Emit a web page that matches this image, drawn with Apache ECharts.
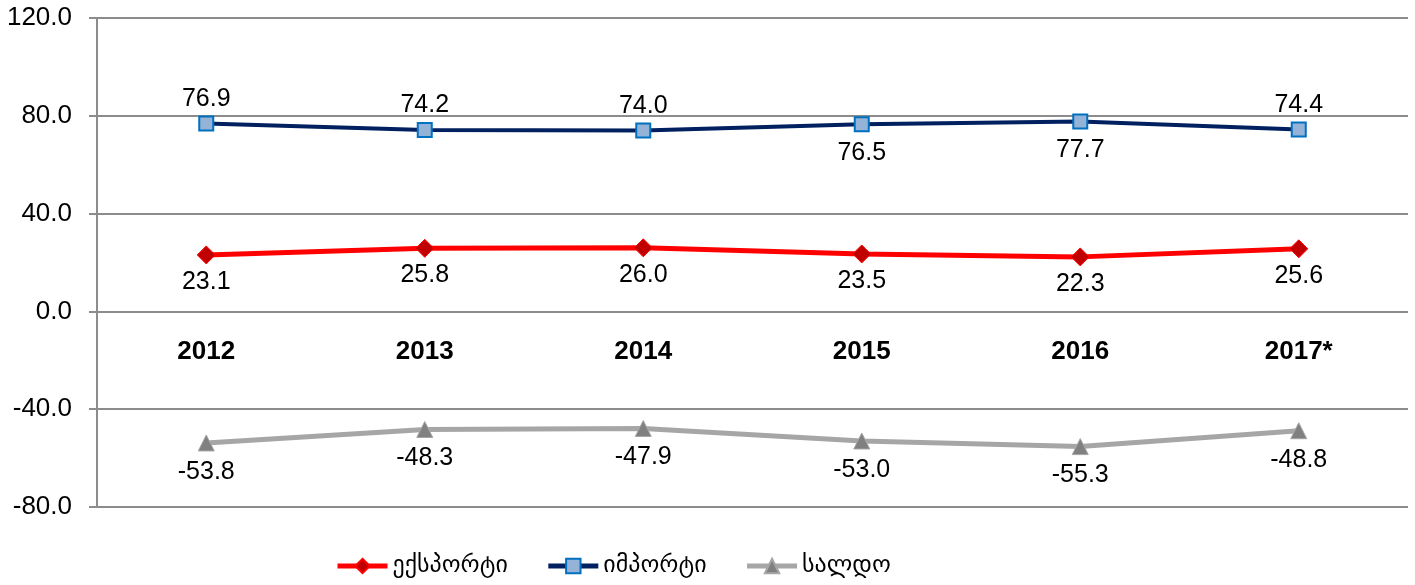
<!DOCTYPE html>
<html>
<head>
    <meta charset="utf-8">
    <title>ECharts</title>
    <script src="https://cdn.jsdelivr.net/npm/echarts@6/dist/echarts.min.js"></script>
</head>
<body style="margin:0">
<style type="text/css">
.chart_box{width: 1415px; height: 585px;}
</style>
    <div class="chart_box" id="main"></div>
    <script type="text/javascript">
        // data
        var years = ['2012', '2013', '2014', '2015', '2016', '2017*'];
        var exportVals = [23.1, 25.8, 26.0, 23.5, 22.3, 25.6];
        var importVals = [76.9, 74.2, 74.0, 76.5, 77.7, 74.4];
        var saldoVals = [-53.8, -48.3, -47.9, -53.0, -55.3, -48.8];
        var importLabelPos = ['top', 'top', 'top', 'bottom', 'bottom', 'top'];
        var names = ['ექსპორტი', 'იმპორტი', 'სალდო'];

        var chart = echarts.init(document.getElementById('main'));
        var labelStyle = {
            show: true,
            fontFamily: 'Liberation Sans',
            fontSize: 25,
            color: '#000',
            distance: 8,
            formatter: function (p) { return p.value.toFixed(1); }
        };

        chart.setOption({
            animation: false,
            grid: {left: 97, right: 7, top: 18, bottom: 78},
            legend: {
                left: 330,
                bottom: 2,
                itemWidth: 50,
                itemHeight: 18,
                itemGap: 38,
                lineStyle: {width: 5},
                textStyle: {fontFamily: 'DejaVu Sans', fontSize: 24, color: '#000'},
                data: names
            },
            xAxis: {
                type: 'category',
                data: years,
                offset: -196,
                axisLine: {show: false},
                axisTick: {show: false},
                axisLabel: {
                    margin: 28,
                    fontFamily: 'Liberation Sans',
                    fontSize: 26,
                    fontWeight: 'bold',
                    color: '#000'
                }
            },
            yAxis: {
                type: 'value',
                min: -80,
                max: 120,
                interval: 40,
                axisLine: {show: true, lineStyle: {color: '#8c8c8c', width: 2}},
                axisTick: {show: true, length: 8, lineStyle: {color: '#8c8c8c', width: 2}},
                splitLine: {lineStyle: {color: '#8c8c8c', width: 2}},
                axisLabel: {
                    margin: 25,
                    fontFamily: 'Liberation Sans',
                    fontSize: 26,
                    color: '#000',
                    formatter: function (v) { return v.toFixed(1); }
                }
            },
            series: [{
                name: names[0],
                type: 'line',
                data: exportVals,
                symbol: 'diamond',
                symbolSize: 18,
                lineStyle: {color: '#ff0000', width: 5},
                itemStyle: {color: '#c00000', borderColor: '#ff0000', borderWidth: 1},
                label: Object.assign({}, labelStyle, {position: 'bottom', distance: 5})
            }, {
                name: names[1],
                type: 'line',
                data: importVals.map(function (v, i) {
                    var top = importLabelPos[i] === 'top';
                    return {value: v, label: {position: importLabelPos[i], distance: top ? 4 : 8}};
                }),
                symbol: 'rect',
                symbolSize: 14,
                lineStyle: {color: '#002060', width: 4},
                itemStyle: {color: '#95b3d7', borderColor: '#0070c0', borderWidth: 2},
                label: labelStyle
            }, {
                name: names[2],
                type: 'line',
                data: saldoVals,
                symbol: 'triangle',
                symbolSize: 16,
                lineStyle: {color: '#a6a6a6', width: 5},
                itemStyle: {color: '#808080', borderColor: '#a6a6a6', borderWidth: 1},
                label: Object.assign({}, labelStyle, {position: 'bottom'})
            }]
        });
    </script>
</body>
</html>
